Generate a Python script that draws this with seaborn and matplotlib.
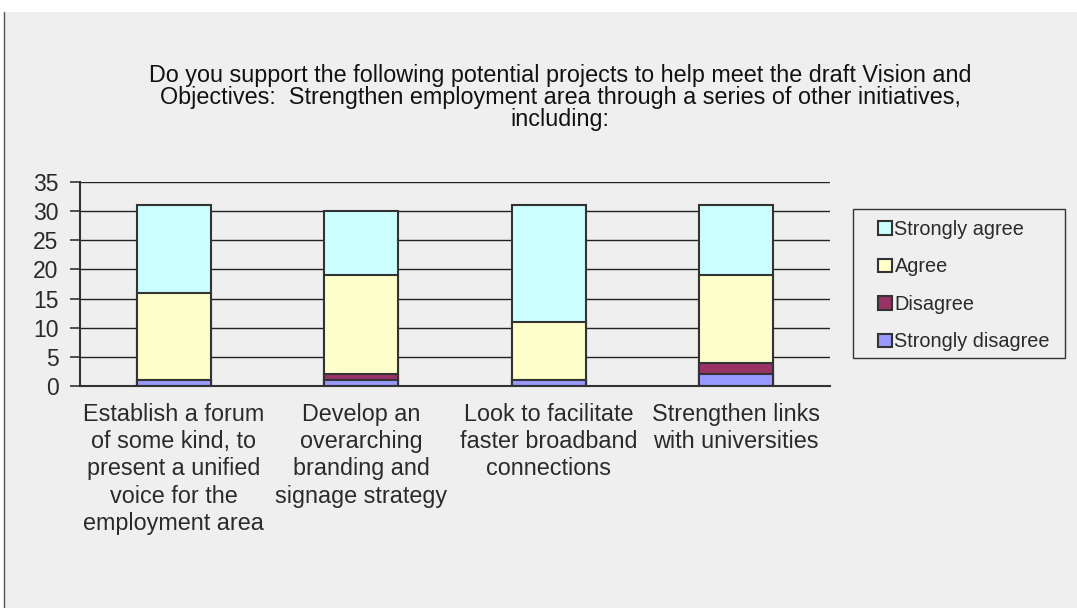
import numpy as np
import matplotlib
matplotlib.use("Agg")
import matplotlib.pyplot as plt
import seaborn as sns
from matplotlib.patches import Patch, Rectangle
from matplotlib.lines import Line2D

# Survey responses per proposed project
categories = [
    "Establish a forum\nof some kind, to\npresent a unified\nvoice for the\nemployment area",
    "Develop an\noverarching\nbranding and\nsignage strategy",
    "Look to facilitate\nfaster broadband\nconnections",
    "Strengthen links\nwith universities",
]
strongly_disagree = [1, 1, 1, 2]
disagree = [0, 1, 0, 2]
agree = [15, 17, 10, 15]
strongly_agree = [15, 11, 20, 12]

series_names = ["Strongly disagree", "Disagree", "Agree", "Strongly agree"]
series_values = [strongly_disagree, disagree, agree, strongly_agree]
series_colors = ["#9999ff", "#993366", "#ffffcc", "#ccffff"]

title = ("Do you support the following potential projects to help meet the draft Vision and\n"
         "Objectives:  Strengthen employment area through a series of other initiatives,\n"
         "including:")

sns.set_style("white")
plt.rcParams["font.family"] = ["Liberation Sans", "DejaVu Sans"]

BG = "#efefef"
EDGE = "#333333"
TEXT = "#2a2a2a"
W, H = 1077, 608

fig = plt.figure(figsize=(W / 100, H / 100), dpi=100, facecolor="white")
# grey chart area with left border
fig.patches.append(Rectangle((4 / W, 0), 1 - 4 / W, 1 - 12 / H, transform=fig.transFigure,
                             facecolor=BG, edgecolor="none", zorder=-2))
fig.lines.append(Line2D([4 / W, 4 / W], [0, 1 - 12 / H], transform=fig.transFigure,
                        color="#555555", linewidth=1, zorder=-1))

ax = fig.add_axes([80 / W, 1 - 386 / H, (830 - 80) / W, (386 - 182) / H])
ax.set_facecolor(BG)

# stacked bars: draw cumulative totals from the top segment downwards
cum = np.cumsum(np.array(series_values, dtype=float), axis=0)
for i in range(len(series_names) - 1, -1, -1):
    sns.barplot(x=list(range(len(categories))), y=cum[i], color=series_colors[i],
                saturation=1, width=0.395, edgecolor=EDGE, linewidth=1.5,
                ax=ax, zorder=3)

ax.set_xlim(-0.5, len(categories) - 0.5)
ax.set_ylim(0, 35)
ax.set_yticks(range(0, 36, 5))
ax.set_yticklabels([str(v) for v in range(0, 36, 5)], fontsize=16.5, color=TEXT)
ax.set_xticks(range(len(categories)))
ax.set_xticklabels(categories, fontsize=16.8, color=TEXT, linespacing=1.24)
ax.set_xticks(np.arange(-0.5, len(categories), 1.0), minor=True)
ax.tick_params(axis="x", which="major", length=0, pad=12)
ax.tick_params(axis="x", which="minor", length=6, width=1.2, color=EDGE)
ax.tick_params(axis="y", length=7, width=1.2, color=EDGE, pad=8.5, left=True)
ax.set_xlabel("")
ax.set_ylabel("")

for v in range(5, 36, 5):
    ax.axhline(v, color="#222222", linewidth=1, zorder=1)

for s in ["top", "right"]:
    ax.spines[s].set_visible(False)
for s in ["left", "bottom"]:
    ax.spines[s].set_color(EDGE)
    ax.spines[s].set_linewidth(1.5)
    ax.spines[s].set_zorder(4)

fig.text(560 / W, 1 - 64 / H, title, ha="center", va="top", fontsize=16.8,
         color="#111111", linespacing=0.95)

# legend frame drawn separately so its padding can be set per side
fig.patches.append(Rectangle((853 / W, 1 - 358 / H), (1065 - 853) / W, (358 - 209) / H,
                             transform=fig.transFigure, facecolor=BG, edgecolor=EDGE,
                             linewidth=1, zorder=-1))
handles = [Patch(facecolor=series_colors[i], edgecolor=EDGE, linewidth=1.5)
           for i in range(len(series_names) - 1, -1, -1)]
labels = series_names[::-1]
leg = fig.legend(handles, labels, loc="upper left",
                 bbox_to_anchor=(878 / W, 1 - 220 / H), bbox_transform=fig.transFigure,
                 fontsize=14.3, frameon=False, handlelength=0.68, handleheight=0.68,
                 handletextpad=0.15, labelspacing=0.93, borderpad=0,
                 borderaxespad=0)
for t in leg.get_texts():
    t.set_color(TEXT)

fig.savefig("out.png", dpi=100, facecolor="white")
